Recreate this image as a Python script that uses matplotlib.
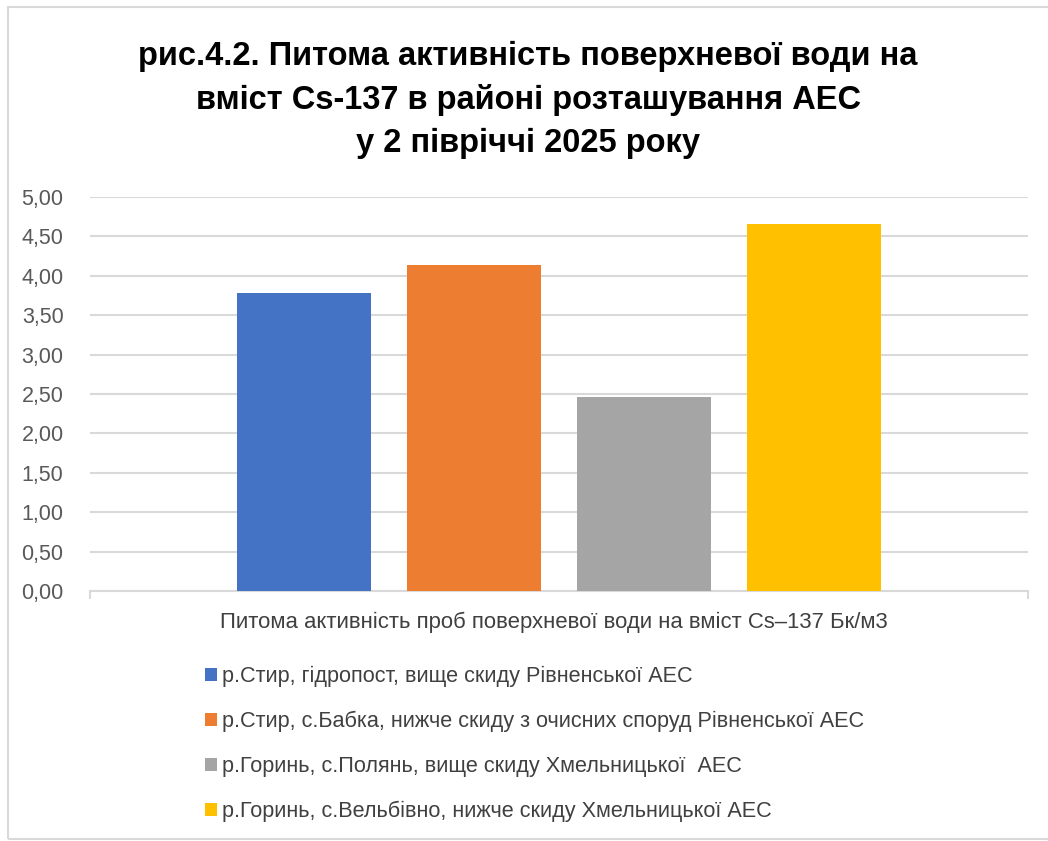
import matplotlib
matplotlib.use("Agg")
import matplotlib.pyplot as plt
from matplotlib.patches import Rectangle
from matplotlib.ticker import FuncFormatter

plt.rcParams['font.family'] = ['Liberation Sans', 'DejaVu Sans']

title = "рис.4.2. Питома активність поверхневої води на\nвміст Cs-137 в районі розташування АЕС\nу 2 півріччі 2025 року"
category = "Питома активність проб поверхневої води на вміст Cs–137 Бк/м3"
series = [
    "р.Стир, гідропост, вище скиду Рівненської АЕС",
    "р.Стир, с.Бабка, нижче скиду з очисних споруд Рівненської АЕС",
    "р.Горинь, с.Полянь, вище скиду Хмельницької  АЕС",
    "р.Горинь, с.Вельбівно, нижче скиду Хмельницької АЕС",
]
values = [3.78, 4.13, 2.46, 4.65]
colors = ["#4472C4", "#ED7D31", "#A5A5A5", "#FFC000"]
yticks = [0, 0.5, 1.0, 1.5, 2.0, 2.5, 3.0, 3.5, 4.0, 4.5, 5.0]

W, H = 1048, 841
fig = plt.figure(figsize=(W / 100, H / 100), dpi=100)

# outer chart border
fig.patches.append(Rectangle((8 / W, 2 / H), (W + 20 - 8) / W, (H - 7 - 2) / H,
                             transform=fig.transFigure, fill=False,
                             edgecolor="#D9D9D9", linewidth=1.5))

ax_left, ax_right = 90, 1028
ax_top, ax_bottom = 196.7, 591.3
ax = fig.add_axes([ax_left / W, 1 - ax_bottom / H, (ax_right - ax_left) / W, (ax_bottom - ax_top) / H])

step = 1.0
width = 0.79
n = len(values)
offsets = [(i - (n - 1) / 2) * step for i in range(n)]
handles = []
for off, v, c, lab in zip(offsets, values, colors, series):
    b = ax.bar(off, v, width=width, color=c, label=lab, zorder=3)
    handles.append(b)

half = (ax_right - ax_left) / 2 / 170.0
ax.set_xlim(-half, half)
ax.set_ylim(0, 5)
ax.set_yticks(yticks)
ax.yaxis.set_major_formatter(FuncFormatter(lambda v, p: f"{v:.2f}".replace(".", ",")))
ax.tick_params(axis='y', length=0, labelsize=15.5, labelcolor="#595959", pad=19)
ax.grid(axis='y', color="#D9D9D9", linewidth=1.5, zorder=0)
for s in ["top", "right", "left"]:
    ax.spines[s].set_visible(False)
ax.spines["bottom"].set_color("#D9D9D9")
ax.spines["bottom"].set_linewidth(1.5)
ax.set_xticks([-half, half])
ax.set_xticklabels(["", ""])
ax.tick_params(axis='x', length=6, width=1.5, color="#D9D9D9", direction='out')

fig.text(528 / W, 1 - 100 / H, title, ha="center", va="center", fontsize=23.5,
         fontweight="bold", linespacing=1.5, color="black")

fig.text(554 / W, 1 - 622 / H, category, ha="center", va="center", fontsize=15.9, color="#404040")

leg = fig.legend(handles=handles, labels=series, loc="upper left",
                 bbox_to_anchor=(205 / W, 1 - 666 / H), frameon=False, fontsize=15.6,
                 handlelength=0.55, handleheight=0.55, handletextpad=0.25,
                 labelspacing=1.1, borderpad=0, borderaxespad=0)
for t in leg.get_texts():
    t.set_color("#404040")

fig.savefig("out.png", dpi=100)
